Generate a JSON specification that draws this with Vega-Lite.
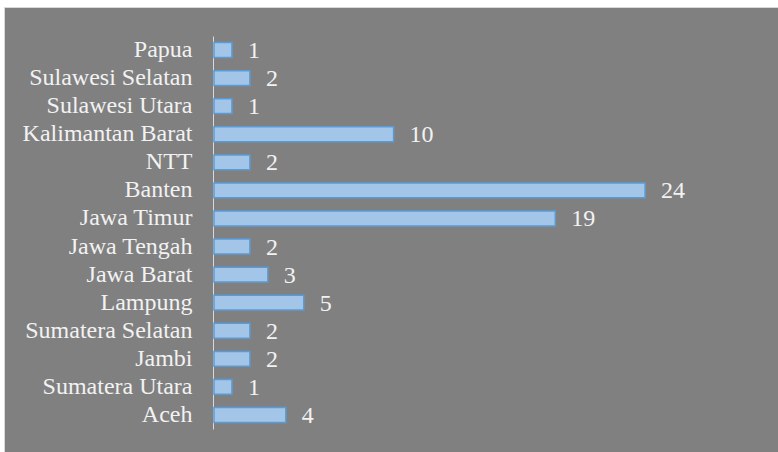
{
  "$schema": "https://vega.github.io/schema/vega-lite/v6.json",
  "autosize": {"type": "none"},
  "width": 774,
  "height": 445,
  "padding": {"left": 4, "top": 7, "right": 0, "bottom": 0},
  "background": "white",
  "config": {
    "view": {"fill": "#808080", "stroke": "#d9d9d9", "strokeWidth": 1},
    "font": "Liberation Serif"
  },
  "data": {
    "values": [
      {"provinsi": "Papua", "jumlah": 1},
      {"provinsi": "Sulawesi Selatan", "jumlah": 2},
      {"provinsi": "Sulawesi Utara", "jumlah": 1},
      {"provinsi": "Kalimantan Barat", "jumlah": 10},
      {"provinsi": "NTT", "jumlah": 2},
      {"provinsi": "Banten", "jumlah": 24},
      {"provinsi": "Jawa Timur", "jumlah": 19},
      {"provinsi": "Jawa Tengah", "jumlah": 2},
      {"provinsi": "Jawa Barat", "jumlah": 3},
      {"provinsi": "Lampung", "jumlah": 5},
      {"provinsi": "Sumatera Selatan", "jumlah": 2},
      {"provinsi": "Jambi", "jumlah": 2},
      {"provinsi": "Sumatera Utara", "jumlah": 1},
      {"provinsi": "Aceh", "jumlah": 4}
    ]
  },
  "encoding": {
    "y": {
      "field": "provinsi",
      "type": "nominal",
      "sort": null,
      "scale": {"range": [29, 422], "paddingInner": 0.47, "paddingOuter": 0.235},
      "axis": {
        "title": null,
        "offset": -209,
        "ticks": false,
        "labelPadding": 21,
        "labelFont": "Liberation Serif",
        "labelFontSize": 24,
        "labelColor": "#f2f2f2",
        "domainColor": "#d9d9d9",
        "domainWidth": 1,
        "grid": false
      }
    },
    "x": {
      "field": "jumlah",
      "type": "quantitative",
      "scale": {"domain": [-11.69, 31.4], "nice": false, "zero": false},
      "axis": null
    }
  },
  "layer": [
    {
      "mark": {"type": "bar", "fill": "#a3c6e8", "stroke": "#5b9bd5", "strokeWidth": 1.5},
      "encoding": {"x2": {"datum": 0}}
    },
    {
      "mark": {"type": "text", "align": "left", "baseline": "middle", "dx": 16, "dy": 1, "font": "Liberation Serif", "fontSize": 24, "color": "#f2f2f2"},
      "encoding": {"text": {"field": "jumlah", "type": "quantitative"}}
    }
  ]
}
